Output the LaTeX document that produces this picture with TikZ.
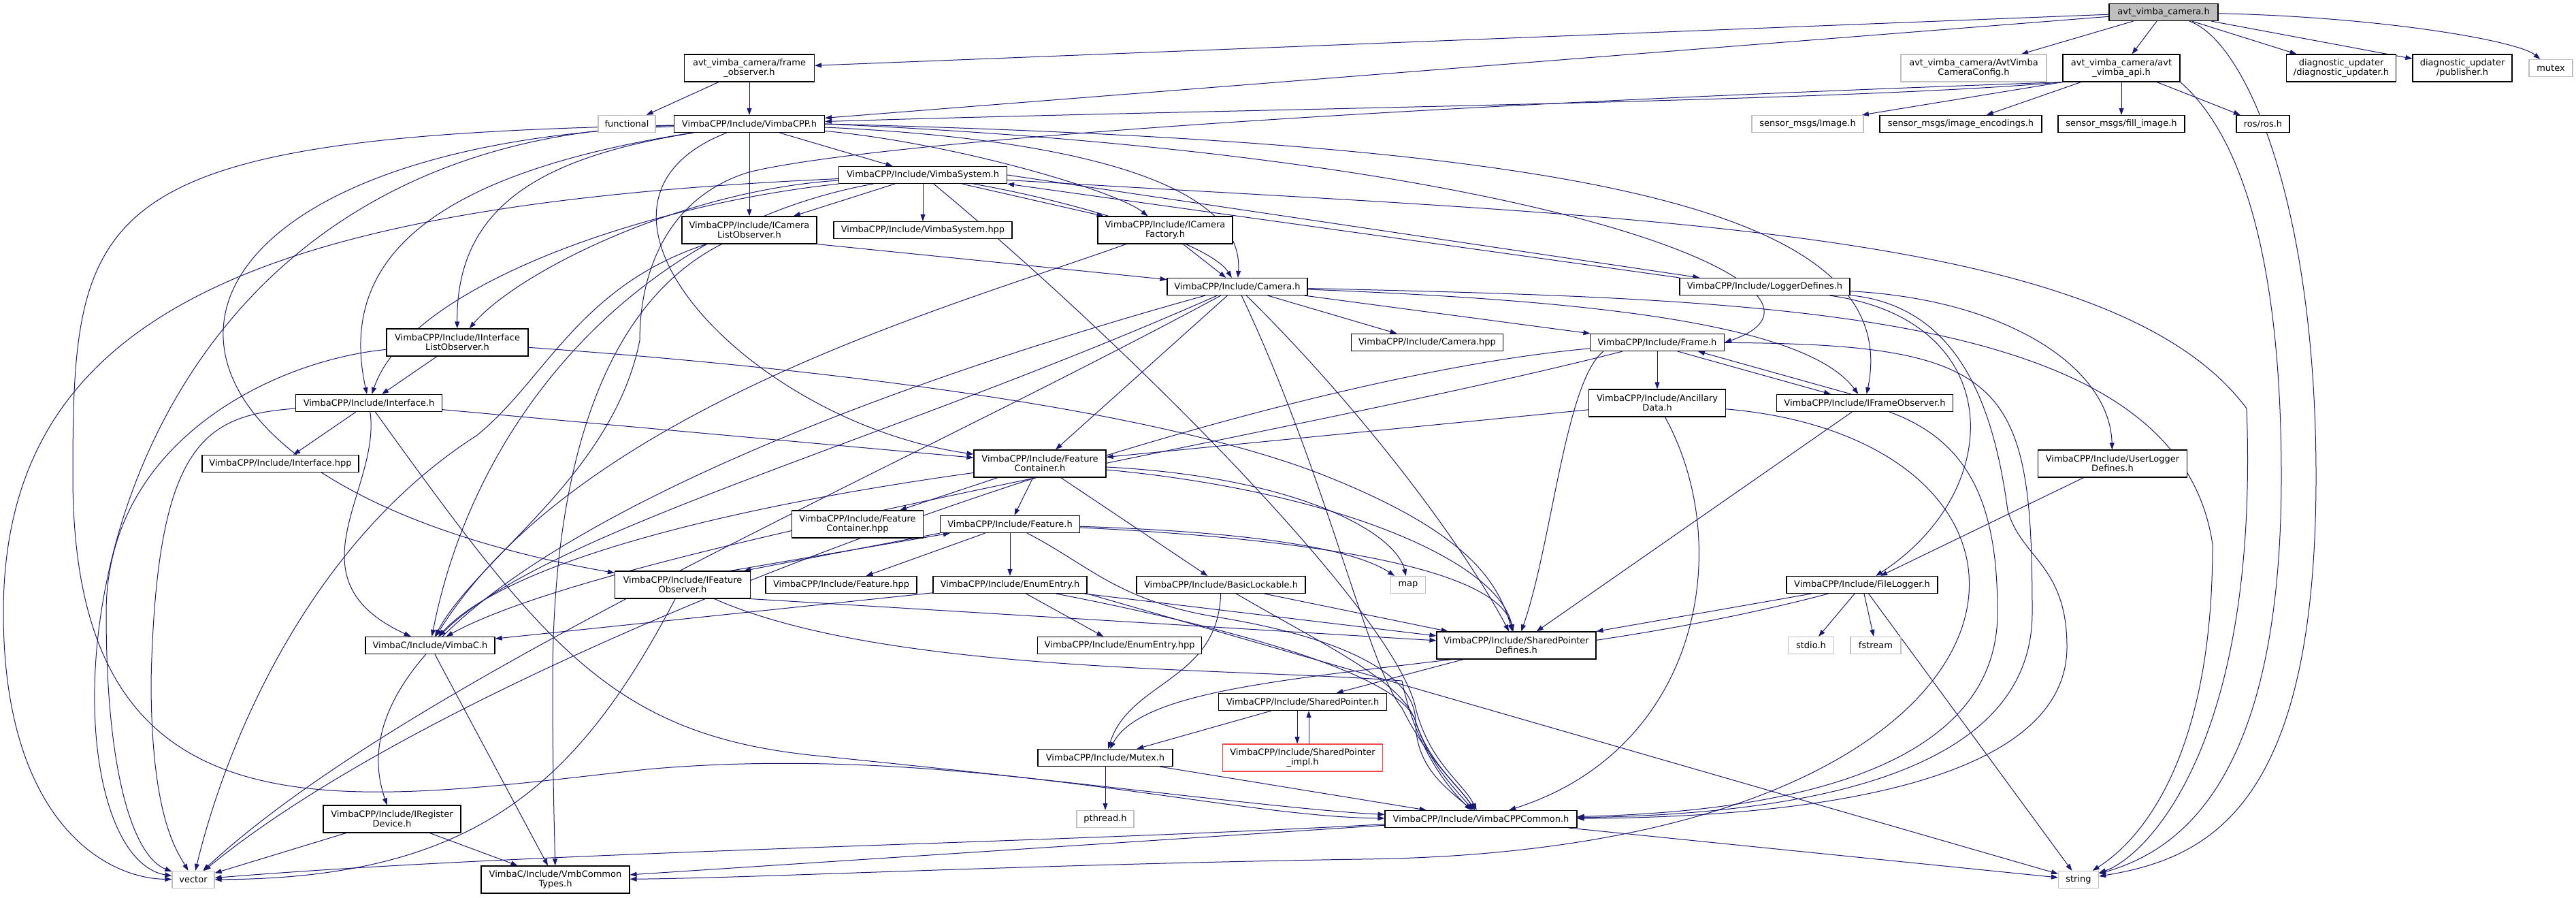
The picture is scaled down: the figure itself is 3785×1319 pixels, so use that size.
\documentclass[tikz,border=0pt]{standalone}
\usepackage{fontspec}
\setmainfont{DejaVu Sans}
\usetikzlibrary{arrows.meta}
\definecolor{edgeblue}{HTML}{191970}
\definecolor{sysgrey}{HTML}{BFBFBF}
\definecolor{truncred}{HTML}{F04848}
\pgfdeclarelayer{edges}
\pgfsetlayers{edges,main}
\begin{document}
\begin{tikzpicture}[x=1pt,y=-1pt,
file/.style={draw=black,line width=1.2pt,fill=white,inner sep=0pt,align=center,minimum height=25pt,font=\fontsize{13}{14}\selectfont},
tall/.style={file,minimum height=40pt},
sys/.style={file,draw=sysgrey},
tallsys/.style={tall,draw=sysgrey},
trunc/.style={tall,draw=truncred},
top/.style={file,fill=sysgrey},
dep/.style={draw=edgeblue,line width=1pt,-{Triangle[length=10pt,width=7pt]}}]
\useasboundingbox (0,0) rectangle (3785,1319);
% files
\node[top,minimum width=160pt] (root) at (3179,18) {avt\_vimba\_camera.h};
\node[tall,minimum width=191pt] (frameobs) at (1101,100) {avt\_vimba\_camera/frame\\\_observer.h};
\node[tallsys,minimum width=214pt] (cfg) at (2900,100) {avt\_vimba\_camera/AvtVimba\\CameraConfig.h};
\node[tall,minimum width=172pt] (api) at (3117,100) {avt\_vimba\_camera/avt\\\_vimba\_api.h};
\node[tall,minimum width=161pt] (diag) at (3440,100) {diagnostic\_updater\\/diagnostic\_updater.h};
\node[tall,minimum width=146pt] (publ) at (3618,100) {diagnostic\_updater\\/publisher.h};
\node[sys,minimum width=64pt] (mutex) at (3748,100) {mutex};
\node[sys,minimum width=84pt] (functional) at (921,182) {functional};
\node[file,minimum width=221pt] (vimbacpp) at (1101,182) {VimbaCPP/Include/VimbaCPP.h};
\node[sys,minimum width=164pt] (imgh) at (2656,182) {sensor\_msgs/Image.h};
\node[file,minimum width=238pt] (imgenc) at (2881,182) {sensor\_msgs/image\_encodings.h};
\node[file,minimum width=186pt] (fillimg) at (3117,182) {sensor\_msgs/fill\_image.h};
\node[file,minimum width=78pt] (ros) at (3325,182) {ros/ros.h};
\node[file,minimum width=247pt] (vsys) at (1356,257) {VimbaCPP/Include/VimbaSystem.h};
\node[tall,minimum width=198pt] (iclo) at (1101,338) {VimbaCPP/Include/ICamera\\ListObserver.h};
\node[file,minimum width=262pt] (vsyshpp) at (1356,338) {VimbaCPP/Include/VimbaSystem.hpp};
\node[tall,minimum width=198pt] (icf) at (1712,338) {VimbaCPP/Include/ICamera\\Factory.h};
\node[file,minimum width=206pt] (camera) at (1818,421) {VimbaCPP/Include/Camera.h};
\node[file,minimum width=250pt] (logdef) at (2593,421) {VimbaCPP/Include/LoggerDefines.h};
\node[tall,minimum width=208pt] (iilo) at (672,503) {VimbaCPP/Include/IInterface\\ListObserver.h};
\node[file,minimum width=223pt] (camhpp) at (2097,503) {VimbaCPP/Include/Camera.hpp};
\node[file,minimum width=197pt] (frame) at (2435,503) {VimbaCPP/Include/Frame.h};
\node[file,minimum width=215pt] (iface) at (542,592) {VimbaCPP/Include/Interface.h};
\node[tall,minimum width=201pt] (anc) at (2435,592) {VimbaCPP/Include/Ancillary\\Data.h};
\node[file,minimum width=259pt] (ifo) at (2740,592) {VimbaCPP/Include/IFrameObserver.h};
\node[file,minimum width=230pt] (ifacehpp) at (412,681) {VimbaCPP/Include/Interface.hpp};
\node[tall,minimum width=194pt] (fc) at (1528,681) {VimbaCPP/Include/Feature\\Container.h};
\node[tall,minimum width=219pt] (ulog) at (3104,681) {VimbaCPP/Include/UserLogger\\Defines.h};
\node[tall,minimum width=193pt] (fchpp) at (1260,770) {VimbaCPP/Include/Feature\\Container.hpp};
\node[file,minimum width=205pt] (feat) at (1484,770) {VimbaCPP/Include/Feature.h};
\node[tall,minimum width=199pt] (ifeo) at (1003,859) {VimbaCPP/Include/IFeature\\Observer.h};
\node[file,minimum width=222pt] (feathpp) at (1236,859) {VimbaCPP/Include/Feature.hpp};
\node[file,minimum width=226pt] (enum) at (1484,859) {VimbaCPP/Include/EnumEntry.h};
\node[file,minimum width=248pt] (lock) at (1794,859) {VimbaCPP/Include/BasicLockable.h};
\node[sys,minimum width=51pt] (map) at (2069,859) {map};
\node[file,minimum width=222pt] (flog) at (2736,859) {VimbaCPP/Include/FileLogger.h};
\node[file,minimum width=190pt] (vimbac) at (632,948) {VimbaC/Include/VimbaC.h};
\node[file,minimum width=241pt] (enumhpp) at (1645,948) {VimbaCPP/Include/EnumEntry.hpp};
\node[tall,minimum width=234pt] (spdef) at (2228,948) {VimbaCPP/Include/SharedPointer\\Defines.h};
\node[sys,minimum width=67pt] (stdio) at (2661,948) {stdio.h};
\node[sys,minimum width=74pt] (fstream) at (2756,948) {fstream};
\node[file,minimum width=247pt] (sp) at (1914,1031) {VimbaCPP/Include/SharedPointer.h};
\node[file,minimum width=198pt] (mutexh) at (1624,1113) {VimbaCPP/Include/Mutex.h};
\node[trunc,minimum width=235pt] (spimpl) at (1914,1113) {VimbaCPP/Include/SharedPointer\\\_impl.h};
\node[tall,minimum width=202pt] (iregdev) at (576,1203) {VimbaCPP/Include/IRegister\\Device.h};
\node[sys,minimum width=84pt] (pthread) at (1624,1203) {pthread.h};
\node[file,minimum width=282pt] (common) at (2176,1203) {VimbaCPP/Include/VimbaCPPCommon.h};
\node[sys,minimum width=62pt] (vector) at (284,1292) {vector};
\node[tall,minimum width=218pt] (vmbct) at (816,1292) {VimbaC/Include/VmbCommon\\Types.h};
\node[sys,minimum width=59pt] (string) at (3054,1292) {string};
\begin{pgfonlayer}{edges}
% avt_vimba_camera.h
\draw[dep] (root)--(frameobs);
\draw[dep] (root)--(vimbacpp);
\draw[dep] (root)--(cfg);
\draw[dep] (root)--(api);
\draw[dep] (root)--(diag);
\draw[dep] (root)--(publ);
\draw[dep] (root) .. controls (3500,25) and (3700,60) .. (mutex);
\draw[dep] (root) .. controls (3300,60) and (3403,300) .. (3403,700) .. controls (3403,1180) and (3250,1260) .. (string);
\draw[dep] (frameobs)--(functional);
\draw[dep] (frameobs)--(vimbacpp);
% avt_vimba_api.h
\draw[dep] (api.south west) .. controls (2700,150) and (1800,160) .. (vimbacpp);
\draw[dep] (api.south west)--(imgh);
\draw[dep] (api)--(imgenc);
\draw[dep] (api)--(fillimg);
\draw[dep] (api)--(ros);
\draw[dep] (api.south east) .. controls (3260,170) and (3352,300) .. (3352,700) .. controls (3352,1150) and (3200,1250) .. (string);
\draw[dep] (api.south west) .. controls (1900,160) and (1250,215) .. (1100,253) .. controls (980,290) and (940,400) .. (940,500) .. controls (900,700) and (700,820) .. (vimbac);
% VimbaCPP.h
\draw[dep] (vimbacpp)--(vsys);
\draw[dep] (vimbacpp)--(iclo);
\draw[dep] (vimbacpp) .. controls (1400,210) and (1640,280) .. (icf);
\draw[dep] (vimbacpp) .. controls (1500,200) and (1830,250) .. (camera);
\draw[dep] (vimbacpp.east) .. controls (2300,230) and (2750,430) .. (frame.east);
\draw[dep] (vimbacpp.east) .. controls (2300,210) and (2800,300) .. (ifo);
\draw[dep] (vimbacpp) .. controls (800,230) and (670,300) .. (iilo);
\draw[dep] (vimbacpp) .. controls (600,260) and (500,400) .. (iface);
\draw[dep] (vimbacpp) .. controls (150,215) and (100,700) .. (ifeo);
\draw[dep] (vimbacpp) .. controls (60,205) and (40,1250) .. (vector);
\draw[dep] (vimbacpp) .. controls (800,300) and (1100,620) .. (fc);
\draw[dep] (vimbacpp) .. controls (130,200) and (107,300) .. (107,700) .. controls (107,1250) and (500,1180) .. (950,1130) .. controls (1400,1090) and (1800,1200) .. (common);
% VimbaSystem.h
\draw[dep] (vsys)--(iclo);
\draw[dep] (vsys)--(vsyshpp);
\draw[dep] (vsys)--(icf);
\draw[dep] (vsys) .. controls (1600,300) and (1780,360) .. (camera);
\draw[dep] (vsys.east)--([xshift=30pt]logdef.north west);
\draw[dep] (logdef.north west)--(vsys.south east);
\draw[dep] (vsys) .. controls (1000,280) and (760,400) .. (iilo);
\draw[dep] (vsys) .. controls (950,300) and (600,420) .. (iface);
\draw[dep] (vsys) .. controls (950,330) and (700,600) .. (vimbac);
\draw[dep] (vsys) .. controls (400,300) and (5,450) .. (5,900) .. controls (5,1200) and (150,1290) .. (vector);
\draw[dep] (vsys) .. controls (2400,320) and (3100,330) .. (3301,600) .. controls (3320,1100) and (3150,1260) .. (string);
\draw[dep] (vsys) .. controls (1650,500) and (2050,900) .. (2080,1040) .. controls (2100,1120) and (2150,1150) .. (common);
% Camera.h
\draw[dep] (camera)--(camhpp);
\draw[dep] (camera)--(frame);
\draw[dep] (camera) .. controls (2300,440) and (2650,470) .. (ifo);
\draw[dep] (camera)--(fc);
\draw[dep] (camera) .. controls (1100,620) and (470,900) .. (iregdev);
\draw[dep] (camera) .. controls (1300,650) and (800,780) .. (vimbac);
\draw[dep] (camera) .. controls (1300,700) and (600,1000) .. (vector);
\draw[dep] (camera) .. controls (1950,700) and (2010,980) .. (2060,1040) .. controls (2100,1120) and (2140,1150) .. (common);
\draw[dep] (camera) .. controls (2000,600) and (2150,800) .. (spdef);
\draw[dep] (camera) .. controls (2600,440) and (3200,450) .. (3251,800) .. controls (3251,1150) and (3120,1250) .. (string);
% Frame.h
\draw[dep] (frame)--(anc);
\draw[dep] ([xshift=30pt]frame.south)--([xshift=-50pt]ifo.north);
\draw[dep] ([xshift=-20pt]ifo.north)--([xshift=60pt]frame.south);
\draw[dep] ([xshift=20pt]frame.south west) .. controls (2300,560) and (2280,800) .. (spdef);
\draw[dep] (frame) .. controls (2950,505) and (2986,560) .. (2986,900) .. controls (2986,1120) and (2700,1195) .. (common);
\draw[dep] (frame) .. controls (1900,640) and (900,800) .. (vimbac);
\draw[dep] (frame) .. controls (1800,560) and (700,950) .. (vector);
% AncillaryData.h
\draw[dep] (anc)--(fc);
\draw[dep] (anc) .. controls (2550,800) and (2500,1100) .. (common);
\draw[dep] (anc) .. controls (3100,650) and (3050,1250) .. (2000,1262) .. controls (1500,1270) and (1100,1290) .. (vmbct);
% IFrameObserver.h
\draw[dep] (ifo)--(spdef);
\draw[dep] (ifo) .. controls (2900,650) and (2935,750) .. (2935,900) .. controls (2935,1100) and (2700,1190) .. (common);
% LoggerDefines.h
\draw[dep] (logdef) .. controls (2950,440) and (3100,540) .. (ulog);
\draw[dep] (logdef) .. controls (2950,470) and (2950,720) .. (flog);
\draw[dep] (logdef) .. controls (2880,450) and (2930,600) .. (2950,750) .. controls (2970,820) and (3037,830) .. (3037,950) .. controls (3037,1140) and (2700,1200) .. (common);
\draw[dep] (ulog)--(flog);
% FileLogger.h
\draw[dep] (flog)--(stdio);
\draw[dep] (flog)--(fstream);
\draw[dep] (flog)--(string);
\draw[dep] (flog)--(spdef);
\draw[dep] (flog) .. controls (2200,1000) and (1700,970) .. (mutexh);
% BasicLockable.h
\draw[dep] (lock) .. controls (1790,1000) and (1660,1000) .. (mutexh);
\draw[dep] (lock)--(spdef);
\draw[dep] (lock) .. controls (1950,950) and (2060,1000) .. (2080,1060) .. controls (2100,1120) and (2140,1150) .. (common);
% EnumEntry.h
\draw[dep] (enum)--(enumhpp);
\draw[dep] (enum)--(vimbac);
\draw[dep] (enum)--(spdef);
\draw[dep] (enum) .. controls (1800,920) and (2060,990) .. (2080,1060) .. controls (2100,1120) and (2130,1150) .. (common);
\draw[dep] (enum.south east)--(string);
% Feature.h
\draw[dep] (feat.south west)--([xshift=-10pt]ifeo.north east);
\draw[dep] ([xshift=-30pt]ifeo.north east)--([xshift=15pt]feat.south west);
\draw[dep] (feat)--(feathpp);
\draw[dep] (feat)--(enum);
\draw[dep] (feat) .. controls (1800,780) and (1980,800) .. (map);
\draw[dep] (feat) .. controls (1900,790) and (2200,830) .. (spdef);
\draw[dep] (feat) .. controls (1600,830) and (1640,880) .. (1780,905) .. controls (2000,940) and (2080,1000) .. (2080,1060) .. controls (2080,1130) and (2130,1160) .. (common);
% FeatureContainer.h
\draw[dep] (fc)--(fchpp);
\draw[dep] (fc)--(feat);
\draw[dep] (fc)--(lock);
\draw[dep] (fc) .. controls (1100,740) and (750,820) .. (vimbac);
\draw[dep] (fc) .. controls (1900,700) and (2050,780) .. (map);
\draw[dep] (fc) .. controls (1950,720) and (2200,820) .. (spdef);
% IFeatureObserver.h
\draw[dep] (ifeo) .. controls (850,1150) and (700,1290) .. (vector);
\draw[dep] (ifeo.south east)--(spdef);
\draw[dep] (ifeo) .. controls (1300,990) and (1800,980) .. (2060,1000) .. controls (2080,1100) and (2130,1160) .. (common);
% Interface.h
\draw[dep] (iface)--(ifacehpp);
\draw[dep] (iface) .. controls (300,610) and (230,650) .. (222,1000) .. controls (222,1200) and (260,1250) .. (vector);
\draw[dep] (iface) .. controls (560,720) and (420,850) .. (vimbac);
\draw[dep] (iface)--(fc);
\draw[dep] (iface) .. controls (800,950) and (900,1080) .. (1200,1110) .. controls (1600,1150) and (1900,1190) .. (common);
% IInterfaceListObserver.h
\draw[dep] (iilo)--(iface);
\draw[dep] (iilo) .. controls (400,530) and (156,650) .. (156,900) .. controls (156,1150) and (200,1260) .. (vector);
\draw[dep] (iilo) .. controls (1200,540) and (1700,600) .. (1950,700) .. controls (2150,780) and (2200,850) .. (spdef);
% ICameraListObserver.h, ICameraFactory.h
\draw[dep] (iclo.south east)--(camera);
\draw[dep] (iclo) .. controls (850,420) and (800,560) .. (700,640) .. controls (450,800) and (330,1100) .. (vector);
\draw[dep] (iclo) .. controls (880,450) and (812,700) .. (812,1000) .. controls (812,1150) and (815,1230) .. (vmbct);
\draw[dep] (icf)--(camera);
\draw[dep] (icf) .. controls (1400,450) and (850,600) .. (vimbac);
% lower files
\draw[dep] (iregdev)--(vector);
\draw[dep] (iregdev)--(vmbct);
\draw[dep] (vimbac)--(vmbct);
\draw[dep] (spdef)--(sp);
\draw[dep] ([xshift=-8pt]sp.south)--([xshift=-8pt]spimpl.north);
\draw[dep] ([xshift=9pt]spimpl.north)--([xshift=9pt]sp.south);
\draw[dep] (sp)--(mutexh);
\draw[dep] (mutexh)--(pthread);
\draw[dep] (mutexh)--(common);
\draw[dep] (common) .. controls (1500,1240) and (800,1250) .. (vector);
\draw[dep] (common)--(vmbct);
\draw[dep] (common)--(string);
\end{pgfonlayer}
\end{tikzpicture}
\end{document}
